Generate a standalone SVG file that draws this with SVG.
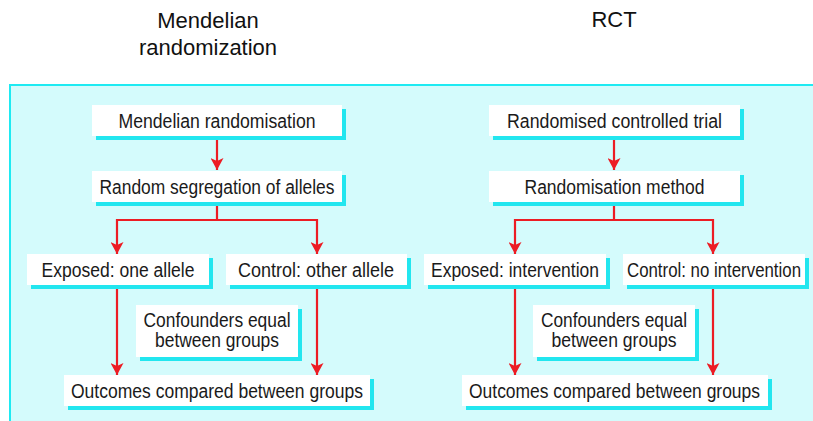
<svg xmlns="http://www.w3.org/2000/svg" width="813" height="421" viewBox="0 0 813 421">
  <defs>
    <style>
      .title { font-family: "Liberation Sans", Arial, sans-serif; font-size: 22px; fill: #111; text-anchor: middle; }
      .lbl { font-family: "Liberation Sans", Arial, sans-serif; font-size: 20px; fill: #1a1a1a; text-anchor: middle; }
      .box { fill: #ffffff; }
      .shadow { fill: #22e6ef; }
      .conn { fill: none; stroke: #ec1c24; stroke-width: 2.2; }
    </style>
    <marker id="arr" viewBox="0 0 12 13" refX="12" refY="6.5" markerWidth="12" markerHeight="13" markerUnits="userSpaceOnUse" orient="auto">
      <path d="M0,0 L12,6.5 L0,13 L3,6.5 Z" fill="#ec1c24"/>
    </marker>
  </defs>

  <rect x="0" y="0" width="813" height="421" fill="#ffffff"/>
  <text class="title" x="208" y="28">Mendelian</text>
  <text class="title" x="208" y="55">randomization</text>
  <text class="title" x="614" y="27">RCT</text>

  <rect x="10" y="85" width="810" height="345" fill="#d4fbfc" stroke="#1eeaf2" stroke-width="2"/>

  <g id="connectors">
    <path class="conn" d="M217,136 V170" marker-end="url(#arr)"/>
    <path class="conn" d="M217,202 V220 H117 V254" marker-end="url(#arr)"/>
    <path class="conn" d="M217,220 H317 V254" marker-end="url(#arr)"/>
    <path class="conn" d="M117,285 V375" marker-end="url(#arr)"/>
    <path class="conn" d="M317,285 V375" marker-end="url(#arr)"/>
    <path class="conn" d="M614,136 V170" marker-end="url(#arr)"/>
    <path class="conn" d="M614,202 V220 H515 V254" marker-end="url(#arr)"/>
    <path class="conn" d="M614,220 H713 V254" marker-end="url(#arr)"/>
    <path class="conn" d="M515,285 V375" marker-end="url(#arr)"/>
    <path class="conn" d="M713,285 V375" marker-end="url(#arr)"/>
  </g>

  <g id="mr-top">
    <rect class="shadow" x="96" y="109" width="250" height="31"/>
    <rect class="box" x="92" y="105" width="250" height="31"/>
    <text class="lbl" x="217" y="127.5" textLength="197" lengthAdjust="spacingAndGlyphs">Mendelian randomisation</text>
  </g>
  <g id="mr-seg">
    <rect class="shadow" x="96" y="175" width="250" height="31"/>
    <rect class="box" x="92" y="171" width="250" height="31"/>
    <text class="lbl" x="217" y="193.5" textLength="235" lengthAdjust="spacingAndGlyphs">Random segregation of alleles</text>
  </g>
  <g id="mr-exposed">
    <rect class="shadow" x="31" y="258" width="182" height="31"/>
    <rect class="box" x="27" y="254" width="182" height="31"/>
    <text class="lbl" x="118" y="276.5" textLength="153" lengthAdjust="spacingAndGlyphs">Exposed: one allele</text>
  </g>
  <g id="mr-control">
    <rect class="shadow" x="230" y="258" width="181" height="31"/>
    <rect class="box" x="226" y="254" width="181" height="31"/>
    <text class="lbl" x="316" y="276.5" textLength="156" lengthAdjust="spacingAndGlyphs">Control: other allele</text>
  </g>
  <g id="mr-confounders">
    <rect class="shadow" x="140" y="309" width="162" height="52"/>
    <rect class="box" x="136" y="305" width="162" height="52"/>
    <text class="lbl" x="217" y="326.5" textLength="147" lengthAdjust="spacingAndGlyphs">Confounders equal</text>
    <text class="lbl" x="217" y="346.5" textLength="124" lengthAdjust="spacingAndGlyphs">between groups</text>
  </g>
  <g id="mr-outcomes">
    <rect class="shadow" x="68" y="379" width="306" height="31"/>
    <rect class="box" x="64" y="375" width="306" height="31"/>
    <text class="lbl" x="217" y="397.5" textLength="292" lengthAdjust="spacingAndGlyphs">Outcomes compared between groups</text>
  </g>

  <g id="rct-top">
    <rect class="shadow" x="493" y="109" width="251" height="31"/>
    <rect class="box" x="489" y="105" width="251" height="31"/>
    <text class="lbl" x="614.5" y="127.5" textLength="215" lengthAdjust="spacingAndGlyphs">Randomised controlled trial</text>
  </g>
  <g id="rct-method">
    <rect class="shadow" x="493" y="175" width="251" height="31"/>
    <rect class="box" x="489" y="171" width="251" height="31"/>
    <text class="lbl" x="614.5" y="193.5" textLength="180" lengthAdjust="spacingAndGlyphs">Randomisation method</text>
  </g>
  <g id="rct-exposed">
    <rect class="shadow" x="428" y="258" width="182" height="31"/>
    <rect class="box" x="424" y="254" width="182" height="31"/>
    <text class="lbl" x="515" y="276.5" textLength="168" lengthAdjust="spacingAndGlyphs">Exposed: intervention</text>
  </g>
  <g id="rct-control">
    <rect class="shadow" x="627" y="258" width="182" height="31"/>
    <rect class="box" x="623" y="254" width="182" height="31"/>
    <text class="lbl" x="714" y="276.5" textLength="174" lengthAdjust="spacingAndGlyphs">Control: no intervention</text>
  </g>
  <g id="rct-confounders">
    <rect class="shadow" x="537" y="309" width="162" height="52"/>
    <rect class="box" x="533" y="305" width="162" height="52"/>
    <text class="lbl" x="614" y="326.5" textLength="146" lengthAdjust="spacingAndGlyphs">Confounders equal</text>
    <text class="lbl" x="614" y="346.5" textLength="125" lengthAdjust="spacingAndGlyphs">between groups</text>
  </g>
  <g id="rct-outcomes">
    <rect class="shadow" x="466" y="379" width="306" height="31"/>
    <rect class="box" x="462" y="375" width="306" height="31"/>
    <text class="lbl" x="614.5" y="397.5" textLength="291" lengthAdjust="spacingAndGlyphs">Outcomes compared between groups</text>
  </g>
</svg>
